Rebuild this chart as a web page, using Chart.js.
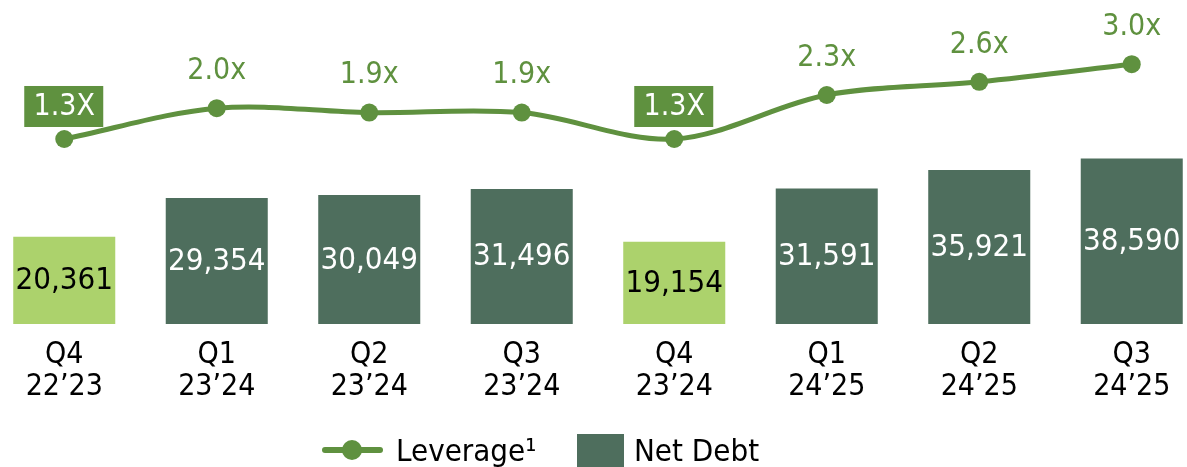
<!DOCTYPE html>
<html><head><meta charset="utf-8">
<script src="https://cdn.jsdelivr.net/npm/chart.js@4.4.1/dist/chart.umd.min.js"></script>
<style>
html,body{margin:0;padding:0;background:#fff;overflow:hidden;width:1187px;height:467px;}
#wrap{position:absolute;left:-12px;top:0;width:1220px;height:467px;}
canvas{display:block;}
</style></head><body>
<div id="wrap"><canvas id="c" width="1220" height="467"></canvas></div>
<script>
// ---- data ----
const quarters = [["Q4","22’23"],["Q1","23’24"],["Q2","23’24"],["Q3","23’24"],["Q4","23’24"],["Q1","24’25"],["Q2","24’25"],["Q3","24’25"]];
const netDebt = [20361, 29354, 30049, 31496, 19154, 31591, 35921, 38590];
const netDebtLabels = ["20,361","29,354","30,049","31,496","19,154","31,591","35,921","38,590"];
const leverage = [1.3, 2.0, 1.9, 1.9, 1.3, 2.3, 2.6, 3.0];
const leverageLabels = ["1.3X","2.0x","1.9x","1.9x","1.3X","2.3x","2.6x","3.0x"];
const highlighted = [true, false, false, false, true, false, false, false];
const seriesNames = ["Leverage¹", "Net Debt"];

// ---- styles ----
const FONT = '"DejaVu Sans Condensed", "DejaVu Sans", sans-serif';
const GREEN = '#5f913f';
const DARK = '#4e6e5d';
const LIGHT = '#acd26c';

const labelPlugin = {
  id: 'valueLabels',
  afterDatasetsDraw(chart) {
    const ctx = chart.ctx;
    ctx.save();
    ctx.textAlign = 'center';
    ctx.textBaseline = 'middle';
    // bar labels
    ctx.font = '31px ' + FONT;
    const bm = chart.getDatasetMeta(1);
    bm.data.forEach((el, i) => {
      ctx.fillStyle = highlighted[i] ? '#000' : '#fff';
      ctx.fillText(netDebtLabels[i], el.x, (el.y + el.base) / 2 + 1);
    });
    // line labels
    ctx.font = '30px ' + FONT;
    const lm = chart.getDatasetMeta(0);
    lm.data.forEach((el, i) => {
      if (highlighted[i]) {
        const cy = el.y - 32.5;
        ctx.fillStyle = GREEN;
        ctx.fillRect(el.x - 40, cy - 20.5, 79, 41);
        ctx.fillStyle = '#fff';
        ctx.fillText(leverageLabels[i], el.x, cy + 1);
      } else {
        ctx.fillStyle = GREEN;
        ctx.fillText(leverageLabels[i], el.x, el.y - 37);
      }
    });
    ctx.restore();
  },
  afterDraw(chart) {
    // legend
    const ctx = chart.ctx;
    ctx.save();
    ctx.font = '31px ' + FONT;
    ctx.textBaseline = 'middle';
    ctx.textAlign = 'left';
    const y = 453;
    ctx.strokeStyle = GREEN; ctx.lineWidth = 6; ctx.lineCap = 'round';
    ctx.beginPath(); ctx.moveTo(337, 450); ctx.lineTo(392, 450); ctx.stroke();
    ctx.fillStyle = GREEN;
    ctx.beginPath(); ctx.arc(364, 450, 10, 0, Math.PI * 2); ctx.fill();
    ctx.fillStyle = '#000';
    ctx.fillText(seriesNames[0], 408, y);
    ctx.fillStyle = DARK;
    ctx.fillRect(589, 434, 47, 40);
    ctx.fillStyle = '#000';
    ctx.fillText(seriesNames[1], 646, y);
    ctx.restore();
  }
};

new Chart(document.getElementById('c'), {
  data: {
    labels: quarters,
    datasets: [
      {
        type: 'line', label: seriesNames[0], data: leverage, yAxisID: 'yLine',
        borderColor: GREEN, borderWidth: 5, tension: 0.33,
        pointRadius: 9, pointBackgroundColor: GREEN, pointBorderWidth: 0,
        order: 0, clip: false
      },
      {
        type: 'bar', label: seriesNames[1], data: netDebt, yAxisID: 'yBar',
        backgroundColor: highlighted.map(h => h ? LIGHT : DARK),
        barPercentage: 0.669, categoryPercentage: 1, order: 1
      }
    ]
  },
  options: {
    responsive: false, animation: false, devicePixelRatio: 1,
    layout: { autoPadding: false, padding: { top: 0, left: 0, right: 0, bottom: 55 } },
    plugins: { legend: { display: false }, tooltip: { enabled: false } },
    scales: {
      x: {
        grid: { display: false, drawTicks: false }, border: { display: false },
        ticks: { color: '#000', font: { family: FONT, size: 30, lineHeight: 1.07 }, padding: 15, maxRotation: 0, autoSkip: false },
        afterFit(s) { s.height = 88; }
      },
      yBar: { display: false, min: 0, max: 75524, position: 'left' },
      yLine: { display: false, min: -2.905, max: 4.459, position: 'right' }
    }
  },
  plugins: [labelPlugin]
});
</script>
</body></html>
